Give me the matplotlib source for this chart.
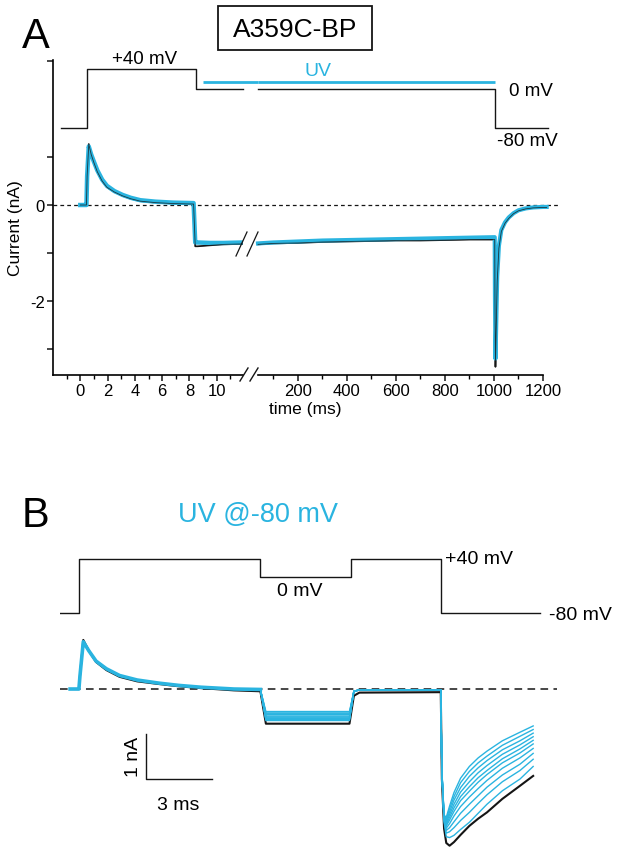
import matplotlib
matplotlib.use('Agg')
import matplotlib.pyplot as plt
from matplotlib.patches import Rectangle
from matplotlib.lines import Line2D
from matplotlib.ticker import FixedLocator, FixedFormatter

plt.rcParams['font.family'] = ['Liberation Sans', 'DejaVu Sans']

BLACK = '#151515'
CYAN = '#2ab4e0'

# ---------------- Panel A data ----------------
# voltage protocol (ms, mV)
vA_t_left = [-1.4, 0.5, 0.5, 8.5, 8.5, 11.92]
vA_v_left = [-80, -80, 40, 40, 0, 0]
vA_t_right = [37, 1006, 1006, 1220]
vA_v_right = [0, 0, -80, -80]
uvA_t_left = [9.0, 13.0]
uvA_t_right = [37, 1003]
uvA_level = 14

# current, short time scale (ms, nA)
tA_left = [0.0, 0.3, 0.45, 0.5, 0.62, 0.8, 1.0, 1.25, 1.6, 1.95, 2.5, 3.1,
           3.7, 4.4, 5.5, 6.8, 8.3, 8.42, 8.6, 9.5, 10.5, 11.92]
iA_black_left = [0.0, 0.0, 0.0, 0.6, 1.27, 1.05, 0.88, 0.69, 0.5, 0.37, 0.27,
                 0.19, 0.13, 0.08, 0.05, 0.03, 0.02, -0.86, -0.86, -0.84,
                 -0.82, -0.81]
iA_cyan_left = [0.0, 0.0, 0.0, 0.6, 1.22, 1.05, 0.9, 0.72, 0.53, 0.4, 0.29,
                0.21, 0.15, 0.1, 0.07, 0.05, 0.04, -0.78, -0.78, -0.79,
                -0.79, -0.78]
# current, long time scale (ms, nA)
tA_right = [37, 100, 200, 300, 400, 500, 600, 700, 800, 900, 1003, 1004,
            1006, 1009, 1013, 1020, 1030, 1045, 1060, 1080, 1100, 1130,
            1160, 1200, 1215]
iA_black_right = [-0.82, -0.8, -0.79, -0.77, -0.76, -0.75, -0.74, -0.74,
                  -0.73, -0.72, -0.72, -2.0, -3.37, -2.6, -1.6, -0.9, -0.55,
                  -0.38, -0.28, -0.18, -0.12, -0.08, -0.06, -0.05, -0.05]
iA_cyan_right = [-0.8, -0.78, -0.76, -0.74, -0.73, -0.72, -0.71, -0.7,
                 -0.69, -0.68, -0.67, -1.9, -3.2, -2.5, -1.5, -0.85, -0.52,
                 -0.36, -0.26, -0.17, -0.11, -0.07, -0.05, -0.04, -0.04]

yticksA = [-3, -2, -1, 0, 1, 3]
yticklabelsA = ['', '-2', '', '0', '', '']
xmajor_left = [0, 2, 4, 6, 8, 10]
xminor_left = [-1, 1, 3, 5, 7, 9, 11]
xmajor_right = [200, 400, 600, 800, 1000, 1200]
xminor_right = [100, 300, 500, 700, 900, 1100]

# ---------------- Panel B data ----------------
vB_t = [-0.9, -0.05, -0.05, 8.2, 8.2, 12.3, 12.3, 16.4, 16.4, 20.9]
vB_v = [-80, -80, 40, 40, 0, 0, 40, 40, -80, -80]

tB_on = [-0.45, -0.05, 0.0, 0.15, 0.4, 0.73, 1.2, 1.8, 2.6, 3.6, 4.5, 5.5,
         7.0, 8.2]
iB_black_on = [0.0, 0.0, 0.3, 1.09, 0.85, 0.6, 0.42, 0.27, 0.17, 0.11, 0.06,
               0.02, -0.03, -0.05]
iB_cyan_on = [0.0, 0.0, 0.3, 1.05, 0.85, 0.62, 0.45, 0.3, 0.2, 0.13, 0.08,
              0.04, 0.0, -0.01]
tB_step = [8.45, 12.25]
tB_mid = [12.45, 12.7, 16.4]
iB_black_mid = [-0.15, -0.08, -0.07]
iB_cyan_mid = [-0.05, -0.02, -0.02]
tB_tail = [16.45, 16.55, 16.65, 16.8, 17.0, 17.3, 17.7, 18.1, 18.5, 19.2,
           20.0, 20.6]

iB_black_step = -0.77
iB_black_tail = [-2.0, -3.1, -3.42, -3.48, -3.4, -3.24, -3.04, -2.88, -2.74,
                 -2.44, -2.15, -1.93]

iB_cyan_steps = [-0.5, -0.53, -0.55, -0.57, -0.6, -0.62, -0.64, -0.66,
                 -0.68, -0.7]
iB_cyan_tails = [
    [-1.80, -2.80, -2.85, -2.60, -2.30, -1.98, -1.72, -1.53, -1.38, -1.15, -0.96, -0.82],
    [-1.81, -2.81, -2.89, -2.66, -2.39, -2.08, -1.83, -1.64, -1.49, -1.25, -1.05, -0.90],
    [-1.82, -2.83, -2.93, -2.73, -2.47, -2.19, -1.94, -1.75, -1.59, -1.35, -1.15, -0.98],
    [-1.83, -2.84, -2.97, -2.79, -2.56, -2.29, -2.06, -1.86, -1.70, -1.45, -1.24, -1.06],
    [-1.84, -2.85, -3.01, -2.85, -2.64, -2.39, -2.17, -1.97, -1.81, -1.55, -1.33, -1.14],
    [-1.84, -2.87, -3.04, -2.91, -2.72, -2.48, -2.27, -2.07, -1.90, -1.64, -1.42, -1.22],
    [-1.86, -2.88, -3.09, -2.99, -2.82, -2.61, -2.40, -2.21, -2.03, -1.76, -1.53, -1.32],
    [-1.87, -2.90, -3.14, -3.08, -2.95, -2.76, -2.56, -2.37, -2.18, -1.91, -1.67, -1.43],
    [-1.88, -2.92, -3.20, -3.17, -3.08, -2.92, -2.74, -2.54, -2.35, -2.06, -1.81, -1.56],
    [-1.90, -2.95, -3.28, -3.30, -3.25, -3.12, -2.96, -2.76, -2.56, -2.26, -2.00, -1.72],
]

scale_bar_t = [3.0, 3.0, 6.0]
scale_bar_i = [-1.0, -2.0, -2.0]

# ---------------- layout ----------------
W, H = 622, 853
fig = plt.figure(figsize=(W / 100, H / 100), dpi=100)


def px_axes(x0, y0, x1, y1):
    ax = fig.add_axes([x0 / W, 1 - y1 / H, (x1 - x0) / W, (y1 - y0) / H])
    ax.set_facecolor('none')
    return ax


def fig_line(xs, ys, **kw):
    fig.add_artist(Line2D([x / W for x in xs], [1 - y / H for y in ys],
                          transform=fig.transFigure, **kw))


def fig_text(x, y, s, **kw):
    fig.text(x / W, 1 - y / H, s, **kw)


# ---- panel A current axes ----
axL = px_axes(53, 61, 243, 376)
axR = px_axes(258, 61, 543, 376)
for ax in (axL, axR):
    ax.set_ylim(-3.54, 3.02)
    for s in ('top', 'right'):
        ax.spines[s].set_visible(False)
    ax.spines['bottom'].set_linewidth(1.2)
    ax.spines['left'].set_linewidth(1.2)
    ax.tick_params(direction='out', length=4, width=1.1, labelsize=12,
                   pad=2, color=BLACK)
    ax.tick_params(which='minor', direction='out', length=3, width=1.0)
axL.set_xlim(-2, 11.92)
axR.set_xlim(37, 1200)
axR.spines['left'].set_visible(False)
axR.set_yticks([])

axL.yaxis.set_major_locator(FixedLocator(yticksA))
axL.yaxis.set_major_formatter(FixedFormatter(yticklabelsA))
axL.set_xticks(xmajor_left)
axL.set_xticks(xminor_left, minor=True)
axR.set_xticks(xmajor_right)
axR.set_xticks(xminor_right, minor=True)

# zero lines
axL.plot([-2, 13.0], [0, 0], ls=(0, (3, 2.5)), color=BLACK, lw=0.9,
         clip_on=False)
axR.plot([37, 1262], [0, 0], ls=(0, (3, 2.5)), color=BLACK, lw=0.9,
         clip_on=False)

# traces
axL.plot(tA_left, iA_black_left, color=BLACK, lw=1.2)
axL.plot(tA_left, iA_cyan_left, color=CYAN, lw=3.2)
axL.plot(tA_left, iA_black_left, color=BLACK, lw=0.6, alpha=0.8)
axR.plot(tA_right, iA_black_right, color=BLACK, lw=1.2, clip_on=False)
axR.plot(tA_right, iA_cyan_right, color=CYAN, lw=3.0, clip_on=False)
axR.plot(tA_right, iA_black_right, color=BLACK, lw=0.6, alpha=0.8,
         clip_on=False)

# ---- panel A voltage protocol ----
avL = px_axes(53, 50, 243, 140)
avR = px_axes(258, 50, 543, 140)
for av in (avL, avR):
    av.set_ylim(-102.6, 82)
    av.axis('off')
avL.set_xlim(-2, 11.92)
avR.set_xlim(37, 1200)
avL.plot(vA_t_left, vA_v_left, color=BLACK, lw=1.0, clip_on=False)
avR.plot(vA_t_right, vA_v_right, color=BLACK, lw=1.0, clip_on=False)
avL.plot(uvA_t_left, [uvA_level] * 2, color=CYAN, lw=2.0, clip_on=False,
         solid_capstyle='butt')
avR.plot(uvA_t_right, [uvA_level] * 2, color=CYAN, lw=2.0, clip_on=False,
         solid_capstyle='butt')

# break marks
fig_line([236, 247], [257, 233], color=BLACK, lw=0.9)
fig_line([247, 258], [257, 233], color=BLACK, lw=0.9)
fig_line([240, 248], [382, 369], color=BLACK, lw=1.0)
fig_line([250, 258], [382, 369], color=BLACK, lw=1.0)

# panel A texts
fig_text(22, 37, 'A', fontsize=30, ha='left', va='center')
fig.add_artist(Rectangle((218 / W, 1 - 51 / H), 154 / W, 44 / H, fill=False,
                         lw=1.3, edgecolor=BLACK, transform=fig.transFigure))
fig_text(295, 30, 'A359C-BP', fontsize=19, ha='center', va='center')
fig_text(145, 60, '+40 mV', fontsize=13.5, ha='center', va='center')
fig_text(318, 71, 'UV', fontsize=14, ha='center', va='center', color=CYAN)
fig_text(509, 92, '0 mV', fontsize=13.5, ha='left', va='center')
fig_text(497, 141, '-80 mV', fontsize=13.5, ha='left', va='center')
fig_text(16, 228, 'Current (nA)', fontsize=12.5, rotation=90, ha='center',
         va='center')
fig_text(305, 410, 'time (ms)', fontsize=12.5, ha='center', va='center')

# ---------------- Panel B ----------------
axB = px_axes(60, 630, 560, 853)
axB.set_xlim(-0.909, 21.82)
axB.set_ylim(-3.62, 1.333)
axB.axis('off')

axB.plot([-0.9, 21.7], [0, 0], ls=(0, (5, 3.5)), color=BLACK, lw=1.1)

black_t = tB_on + tB_step + tB_mid + tB_tail
black_i = (iB_black_on + [iB_black_step] * 2 + iB_black_mid + iB_black_tail)
axB.plot(black_t, black_i, color=BLACK, lw=1.5, clip_on=False)
for lvl, tail in zip(iB_cyan_steps, iB_cyan_tails):
    ci = iB_cyan_on + [lvl] * 2 + iB_cyan_mid + tail
    axB.plot(black_t, ci, color=CYAN, lw=1.0, clip_on=False)
axB.plot(tB_on, iB_cyan_on, color=CYAN, lw=2.6)

axB.plot(scale_bar_t, scale_bar_i, color=BLACK, lw=1.0)

avB = px_axes(60, 545, 560, 625)
avB.set_xlim(-0.909, 21.82)
avB.set_ylim(-104.4, 73.3)
avB.axis('off')
avB.plot(vB_t, vB_v, color=BLACK, lw=1.0)

fig_text(22, 516, 'B', fontsize=30, ha='left', va='center')
fig_text(258, 515, 'UV @-80 mV', fontsize=19.5, ha='center', va='center',
         color=CYAN)
fig_text(445, 560, '+40 mV', fontsize=14, ha='left', va='center')
fig_text(300, 592, '0 mV', fontsize=14, ha='center', va='center')
fig_text(549, 615, '-80 mV', fontsize=14, ha='left', va='center')
fig_text(133, 757, '1 nA', fontsize=14, rotation=90, ha='center',
         va='center')
fig_text(178, 806, '3 ms', fontsize=14, ha='center', va='center')

fig.savefig('out.png', dpi=100)
